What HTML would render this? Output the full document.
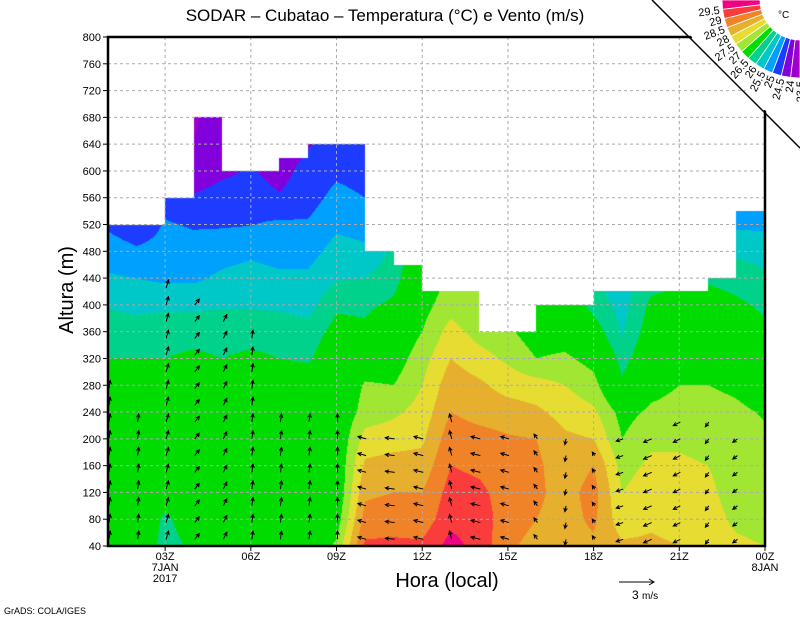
<!DOCTYPE html>
<html><head><meta charset="utf-8"><style>
html,body{margin:0;padding:0;background:#fff;}
#wrap{position:relative;width:800px;height:618px;overflow:hidden;font-family:"Liberation Sans",sans-serif;}
canvas{position:absolute;left:108px;top:37px;}
svg{position:absolute;left:0;top:0;}
</style></head><body>
<div id="wrap">
<canvas id="cv" width="657" height="509"></canvas>
<svg id="sv" width="800" height="618">
<text x="385" y="21" font-size="17" text-anchor="middle">SODAR – Cubatao – Temperatura (°C) e Vento (m/s)</text>
<text transform="translate(73,290) rotate(-90)" font-size="20" text-anchor="middle">Altura (m)</text>
<text x="447" y="587" font-size="20" text-anchor="middle">Hora (local)</text>
<text x="4" y="614" font-size="9">GrADS: COLA/IGES</text>
<g>
<line x1="619" y1="582" x2="654" y2="582" stroke="#000" stroke-width="1"/>
<polyline points="649,579 654,582 649,585" fill="none" stroke="#000"/>
<text x="632" y="599" font-size="12">3 <tspan font-size="10">m/s</tspan></text>
</g>
<g id="grid"></g><g id="axes"></g><g id="arrows"></g><g id="legend"></g>
</svg>
</div>
<script>
// Temperature profiles (°C) per hour node, heights from 40 m upward every 40 m
const t01=[27,27,27,27,27,27,27,26.5,26.2,25.98,25.55,25.3,24.9];
const t02=[27,27,27,27,27,27,27,26.5,26.25,25.85,25.5,25.1,24.6];
const t03=[26.3,26.4,26.8,27,27,27,27,26.5,26.3,25.9,25.4,25.2,25.05,24.8];
const t04=[26.6,26.8,27,27,27,27,27,26.6,26.3,25.9,25.4,25.2,24.95,24.55,24.2,24.0,23.9];
const t05=[27,27,27,27,27,27,27,26.5,26.3,25.95,25.6,25.3,24.95,24.7,24.4];
const t06=[27,27,27,27,27,27,27,26.6,26.3,25.95,25.7,25.4,24.98,24.75,24.55];
const t07=[27,27,27,27,27,27,27,26.5,26.3,25.9,25.6,25.3,25.1,24.55,24.3,24.1];
const t08=[27,27,27,27,27,27,27,26.4,26.2,25.8,25.6,25.3,25.05,24.8,24.7,24.45];
const t09=[27.6,27.2,27,27,27,27,27,27,26.7,26.4,25.95,25.7,25.4,25.15,24.9,24.7];
const t10=[29.6,29.2,28.9,28.6,28.2,27.7,27.55,27.2,26.6,26.4,26.0,25.6,25.3,25.0,24.8,24.6];
const t11=[29.6,29.3,29.0,28.7,28.3,27.9,27.5,27.2,27.0,26.6,26.3,26.1];
const t12=[29.6,29.2,29.0,28.7,28.4,28.2,28.0,27.8,27.5,27.3,27.1];
const t13=[30.2,29.85,29.7,29.5,29.3,29.0,28.8,28.5,28.2,27.8,27.6];
const t14=[29.8,29.7,29.6,29.4,29.2,28.8,28.6,28.2,27.8,27.5];
const t15=[29.1,29.3,29.3,29.2,29.05,28.75,28.3,27.9,27.6,27.3];
const t16=[28.8,29.0,29.1,29.1,29.0,28.6,28.2,27.5,27.2,27.0];
const t17=[28.8,28.8,28.8,28.7,28.6,28.3,28.0,27.6,27.2,27.0];
const t18=[28.9,29.1,29.2,29.0,28.5,28.1,27.7,27.3,26.8,26.3,26.0];
const t19=[28.6,28.2,28.0,27.8,27.5,27.3,26.6,26.3,25.95,25.8,25.7];
const t20=[28.6,28.4,28.3,28.1,27.9,27.6,27.3,27.0,26.8,26.6,26.3];
const t21=[28.5,28.3,28.2,28.1,27.9,27.7,27.5,27.2,27.0,26.7,26.4];
const t22=[28.3,28.2,28.1,28.0,27.8,27.7,27.5,27.2,27.0,26.8,26.4];
const t23=[28.1,27.9,27.8,27.8,27.7,27.6,27.4,27.1,26.9,26.6,26.3,25.9,25.4,25.0];
const t24=[28.0,27.8,27.7,27.7,27.6,27.45,27.2,26.9,26.6,26.4,26.1,25.8,25.4,25.1];
const profiles=[t01,t02,t03,t04,t05,t06,t07,t08,t09,t10,t11,t12,t13,t14,t15,t16,t17,t18,t19,t20,t21,t22,t23,t24];
// Top of valid data (m) per hourly cell
const cellTops=[520,520,560,680,600,600,620,640,640,480,460,420,420,360,360,400,400,420,420,420,420,440,540];
// Colour thresholds and colours
const thresholds=[24,24.5,25,25.5,26,26.5,27.5,28,28.5,29,29.5,30];
const colors=["#a000c8","#8200dc","#1e3cff","#00a0ff","#00c8c8","#00d28c","#00dc00","#a0e632","#e6dc32","#e6af2d","#f08228","#fa3c3c","#f00082"];
// Wind (m/s) per hour node and top height of wind measurements
const windU=[0.1,0.1,0.2,0.4,0.3,0.1,0.1,0.1,0.0,-0.7,-0.8,-0.8,-0.2,-0.8,-0.7,-0.3,-0.1,-0.2,-0.6,-0.7,-0.6,-0.3,-0.4,-0.5];
const windV=[0.7,0.7,0.7,0.5,0.6,0.7,0.7,0.7,0.7,0.2,0.1,0.2,0.7,0.2,0.2,0.4,-0.5,0.3,-0.2,-0.3,-0.3,-0.4,-0.3,-0.3];
const windTop=[280,240,440,400,380,360,240,240,240,200,220,220,240,220,200,200,200,180,200,220,240,240,220,0];
const yTicks=[40,80,120,160,200,240,280,320,360,400,440,480,520,560,600,640,680,720,760,800];
const xTickHours=[2,5,8,11,14,17,20,23];
const xTickLabels=["03Z","06Z","09Z","12Z","15Z","18Z","21Z","00Z"];
const legendLabels=["29.5","29","28.5","28","27.5","27","26.5","26","25.5","25","24.5","24","23.5"];

const X0=108,Y0=37,W=657,H=509,HOURS=23;
const xs=h=>X0+h*W/HOURS;
const ys=m=>Y0+H-(m-40)*H/760;
const NS="http://www.w3.org/2000/svg";
function mk(tag,parent){const e=document.createElementNS(NS,tag);parent.appendChild(e);return e;}
function valAt(k,m){const p=profiles[k];let f=(m-40)/40;if(f<=0)return p[0];if(f>=p.length-1)return p[p.length-1];const i=Math.floor(f),r=f-i;return p[i]*(1-r)+p[i+1]*r;}
// fill
const cv=document.getElementById('cv'),ctx=cv.getContext('2d');
const img=ctx.createImageData(W,H);
const rgb=colors.map(c=>[parseInt(c.substr(1,2),16),parseInt(c.substr(3,2),16),parseInt(c.substr(5,2),16)]);
for(let py=0;py<H;py++){const m=800-(py+0.5)*760/H;
 for(let px=0;px<W;px++){const u=(px+0.5)*HOURS/W;const cell=Math.min(HOURS-1,Math.floor(u));const o=(py*W+px)*4;
  if(m>cellTops[cell]){img.data[o]=255;img.data[o+1]=255;img.data[o+2]=255;img.data[o+3]=255;continue;}
  const k=Math.floor(u),r=u-k;const t=valAt(k,m)*(1-r)+valAt(Math.min(23,k+1),m)*r;
  let i=0;while(i<thresholds.length&&t>=thresholds[i])i++;const c=rgb[i];
  img.data[o]=c[0];img.data[o+1]=c[1];img.data[o+2]=c[2];img.data[o+3]=255;}}
ctx.putImageData(img,0,0);
// grid
const grid=document.getElementById('grid');
yTicks.forEach(v=>{if(v===40||v===800)return;const l=mk('line',grid);


l.setAttribute('x1',X0);l.setAttribute('x2',X0+W);l.setAttribute('y1',ys(v));l.setAttribute('y2',ys(v));l.setAttribute('stroke','#aaa');l.setAttribute('stroke-dasharray','3,3');});
xTickHours.forEach((h,i)=>{if(i===xTickHours.length-1)return;const l=mk('line',grid);


l.setAttribute('x1',xs(h));l.setAttribute('x2',xs(h));l.setAttribute('y1',Y0);l.setAttribute('y2',Y0+H);l.setAttribute('stroke','#aaa');l.setAttribute('stroke-dasharray','3,3');});
// axes
const ax=document.getElementById('axes');
yTicks.forEach(v=>{const t=mk('text',ax);


t.setAttribute('x',101);t.setAttribute('y',ys(v)+4);t.setAttribute('font-size','11');t.setAttribute('text-anchor','end');t.textContent=v;
const l=mk('line',ax);


l.setAttribute('x1',103);l.setAttribute('x2',108);l.setAttribute('y1',ys(v));l.setAttribute('y2',ys(v));l.setAttribute('stroke','#000');});
xTickHours.forEach((h,i)=>{const t=mk('text',ax);


t.setAttribute('x',xs(h));t.setAttribute('y',560);t.setAttribute('font-size','11');t.setAttribute('text-anchor','middle');t.textContent=xTickLabels[i];
const l=mk('line',ax);


l.setAttribute('x1',xs(h));l.setAttribute('x2',xs(h));l.setAttribute('y1',Y0+H);l.setAttribute('y2',Y0+H+5);l.setAttribute('stroke','#000');});
[["7JAN",2,571],["2017",2,582],["8JAN",23,571]].forEach(d=>{const t=mk('text',ax);


t.setAttribute('x',xs(d[1]));t.setAttribute('y',d[2]);t.setAttribute('font-size','11');t.setAttribute('text-anchor','middle');t.textContent=d[0];});
const frame=mk('polyline',ax);


frame.setAttribute('points','692,37 108,37 108,546 765,546 765,110');frame.setAttribute('fill','none');frame.setAttribute('stroke','#000');frame.setAttribute('stroke-width','2.5');
// arrows
const ag=document.getElementById('arrows');const S=35/3;
for(let k=0;k<24;k++){for(let m=50;m<=windTop[k];m+=25){
 const x=k===23?xs(k)-2:xs(k)+1,y=ys(m);const dx=windU[k]*S,dy=-windV[k]*S;const L=Math.hypot(dx,dy);if(L<1)continue;
 const ex=x+dx,ey=y+dy,ux=dx/L,uy=dy/L,hs=4;
 const p=mk('path',ag);
 
 
 p.setAttribute('d',`M${x},${y}L${ex},${ey}M${ex-hs*(ux*0.9-uy*0.45)},${ey-hs*(uy*0.9+ux*0.45)}L${ex},${ey}L${ex-hs*(ux*0.9+uy*0.45)},${ey-hs*(uy*0.9-ux*0.45)}`);
 p.setAttribute('stroke','#000');p.setAttribute('fill','none');p.setAttribute('stroke-width','1');}}
// legend wheel
const lg=document.getElementById('legend');
const bg=mk('polygon',lg);


bg.setAttribute('points','655,0 800,0 800,145');bg.setAttribute('fill','#fff');
const ln=mk('line',lg);


ln.setAttribute('x1',652);ln.setAttribute('y1',0);ln.setAttribute('x2',800);ln.setAttribute('y2',148);ln.setAttribute('stroke','#000');ln.setAttribute('stroke-width','1.5');
const cx=800,cy=0,r1=40,r2=78,n=colors.length;
for(let i=0;i<n;i++){const ci=n-1-i;const a0=Math.PI-i*(Math.PI/2)/n,a1=Math.PI-(i+1)*(Math.PI/2)/n;
 const P=(r,a)=>`${cx+r*Math.cos(a)},${cy+r*Math.sin(a)}`;
 const w=mk('path',lg);
 
 
 w.setAttribute('d',`M${P(r1,a0)}L${P(r2,a0)}L${P(r2,a1)}L${P(r1,a1)}Z`);w.setAttribute('fill',colors[ci]);w.setAttribute('stroke','#fff');w.setAttribute('stroke-width','0.8');}
legendLabels.forEach((s,i)=>{const a=Math.PI-(i+1)*(Math.PI/2)/n;const r=81;const x=cx+r*Math.cos(a),y=cy+r*Math.sin(a);
 const t=mk('text',lg);
 
 
 const deg=(a-Math.PI)*180/Math.PI;
 t.setAttribute('transform',`translate(${x},${y}) rotate(${deg})`);t.setAttribute('font-size','11');t.setAttribute('text-anchor','end');t.setAttribute('dy','4');t.textContent=s;});
const u=mk('text',lg);


u.setAttribute('x',778);u.setAttribute('y',18);u.setAttribute('font-size','10');u.textContent='°C';
</script>
</body></html>
